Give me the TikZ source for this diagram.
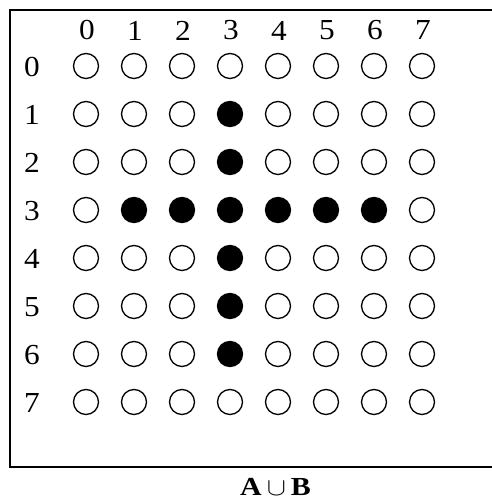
\documentclass[tikz,border=0pt]{standalone}
\usepackage{fontspec}
\setmainfont{Liberation Serif}
\begin{document}
\begin{tikzpicture}[x=1pt,y=-1pt,
  dot/.style={circle,draw=black,line width=1.3pt,minimum size=25pt,inner sep=0pt},
  setdot/.style={dot,fill=black},
  idx/.style={font=\fontsize{29}{34}\selectfont,inner sep=0pt}]
\useasboundingbox (0,0) rectangle (491,502);
% open frame: top, left and bottom sides
\draw[line width=2pt] (495,10) -- (10,10) -- (10,467) -- (495,467);
% column and row indices
\foreach \i in {0,...,7} {
  \node[idx] (col\i) at ({87+48*\i},30.5) {\scalebox{1.08}[1]{\i}};
  \node[idx] (row\i) at (32,{67+48*\i}) {\scalebox{1.08}[1]{\i}};
}
% the 8x8 grid of points
\foreach \r in {0,...,7} {
  \foreach \c in {0,...,7} {
    \pgfmathtruncatemacro{\onset}{(\r==3 && \c>0 && \c<7) || (\c==3 && \r>0 && \r<7) ? 1 : 0}
    \ifnum\onset=1
      \node[setdot] (p\r-\c) at ({86+48*\c},{66+48*\r}) {};
    \else
      \node[dot] (p\r-\c) at ({86+48*\c},{66+48*\r}) {};
    \fi
  }
}
% caption
\node[font=\fontsize{26}{30}\selectfont,inner sep=0pt] (cap) at (275.5,486.5)
  {\scalebox{1.15}[1]{\textbf{A}\,$\cup$\,\textbf{B}}};
\end{tikzpicture}
\end{document}
